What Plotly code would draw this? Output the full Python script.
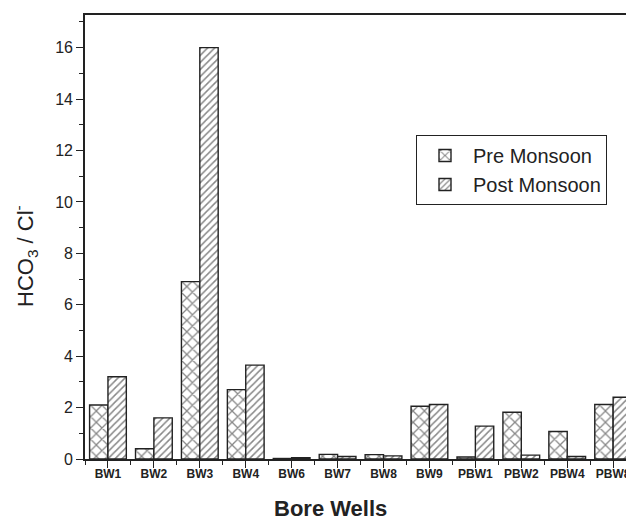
import plotly.graph_objects as go

wells = ["BW1", "BW2", "BW3", "BW4", "BW6", "BW7", "BW8", "BW9",
         "PBW1", "PBW2", "PBW4", "PBW8"]
pre_monsoon = [2.1, 0.4, 6.9, 2.7, 0.02, 0.18, 0.17, 2.05, 0.08, 1.82, 1.07, 2.12]
post_monsoon = [3.2, 1.6, 16.0, 3.65, 0.05, 0.1, 0.12, 2.12, 1.28, 0.15, 0.1, 2.4]

FONT = "Liberation Sans, Arial, sans-serif"
INK = "#222222"
pos = list(range(len(wells)))

W, H = 626, 520
L, T, B = 85, 15, 61
PW, PH = W - L, H - T - B

fig = go.Figure()
fig.add_trace(go.Bar(
    x=pos, y=pre_monsoon, name="Pre Monsoon",
    marker=dict(
        color="white",
        line=dict(color=INK, width=1.4),
        pattern=dict(shape="x", fgcolor="#111111", bgcolor="white",
                     size=8, solidity=0.3, fillmode="overlay"),
    ),
))
fig.add_trace(go.Bar(
    x=pos, y=post_monsoon, name="Post Monsoon",
    marker=dict(
        color="white",
        line=dict(color=INK, width=1.4),
        pattern=dict(shape="/", fgcolor="#111111", bgcolor="white",
                     size=5, solidity=0.3, fillmode="overlay"),
    ),
))

fig.update_layout(
    width=W, height=H,
    margin=dict(l=L, r=0, t=T, b=B, autoexpand=False),
    paper_bgcolor="white", plot_bgcolor="white",
    font=dict(family=FONT, color=INK),
    barmode="group", bargap=0.2, bargroupgap=0,
    showlegend=True,
    legend=dict(
        x=(416 - L) / PW, y=(H - B - 135) / PH, xanchor="left", yanchor="top",
        bordercolor=INK, borderwidth=1, bgcolor="white",
        font=dict(family=FONT, size=20, color=INK),
        itemwidth=46, tracegroupgap=0,
        entrywidthmode="pixels", entrywidth=140,
    ),
    annotations=[
        dict(text="<b>Bore Wells</b>", xref="paper", yref="paper",
             x=(330 - L) / PW, y=0, yshift=-49,
             showarrow=False, xanchor="center", yanchor="middle",
             font=dict(family=FONT, size=22, color=INK)),
        dict(text="HCO<sub>3</sub> / Cl<sup>-</sup>", xref="paper", yref="paper",
             x=0, y=(H - B - 256) / PH, xshift=25 - L, textangle=-90,
             showarrow=False, xanchor="center", yanchor="middle",
             font=dict(family=FONT, size=22, color=INK)),
    ],
)
fig.update_xaxes(
    range=[-0.5, 11.28], automargin=False,
    tickmode="array", tickvals=pos, ticktext=wells,
    tickfont=dict(family=FONT, size=12, color=INK, weight="bold"),
    ticks="outside", ticklen=7, tickwidth=1.4, tickcolor=INK,
    ticklabelstandoff=-4, ticklabeloverflow="allow",
    minor=dict(tickmode="linear", tick0=0.5, dtick=1, ticks="outside",
               ticklen=4, tickwidth=1.2, tickcolor=INK),
    showline=True, linecolor=INK, linewidth=1.6, mirror=True,
    showgrid=False, zeroline=False,
)
fig.update_yaxes(
    range=[0, 17.27], automargin=False,
    tickmode="linear", tick0=0, dtick=2,
    tickfont=dict(family=FONT, size=16, color=INK),
    ticks="outside", ticklen=7, tickwidth=1.4, tickcolor=INK,
    minor=dict(tickmode="linear", tick0=1, dtick=2, ticks="outside",
               ticklen=4, tickwidth=1.2, tickcolor=INK),
    showline=True, linecolor=INK, linewidth=1.6, mirror=True,
    showgrid=False, zeroline=False,
)

# drop the default page margin so the figure fills the window exactly
fig.write_html(
    "out.html",
    config={"displayModeBar": False},
    post_script="document.body.style.margin='0';document.body.style.overflow='hidden';",
)
